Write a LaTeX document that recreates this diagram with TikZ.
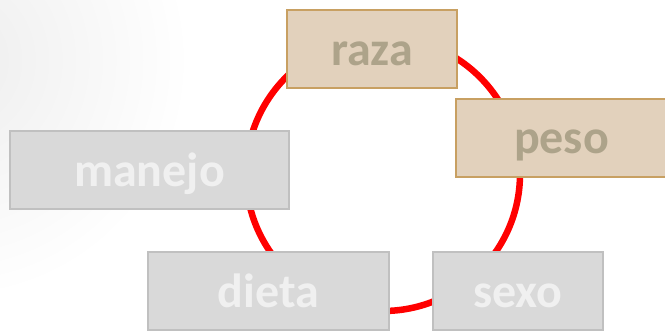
\documentclass[tikz,border=0pt]{standalone}
\usepackage{fontspec}
\setmainfont{Carlito}
\definecolor{tanfill}{RGB}{226,209,188}
\definecolor{tanline}{RGB}{200,160,98}
\definecolor{tantext}{RGB}{173,163,138}
\definecolor{grayfill}{RGB}{217,217,217}
\definecolor{grayline}{RGB}{192,192,192}
\definecolor{graytext}{RGB}{240,240,240}
\definecolor{ringred}{RGB}{255,0,0}
\tikzset{
  box/.style={rectangle, line width=2pt, inner sep=0pt, minimum height=78pt,
    text height=32pt, text depth=0pt,
    font=\fontsize{48}{54}\selectfont\bfseries},
  tanbox/.style={box, draw=tanline, fill=tanfill, text=tantext},
  graybox/.style={box, draw=grayline, fill=grayfill, text=graytext},
  ring/.style={draw=ringred, line width=6.5pt}
}
\begin{document}
\begin{tikzpicture}[x=1pt,y=-1pt]
\useasboundingbox (0,0) rectangle (665,330);
\clip (0,0) rectangle (665,330);
\fill[white] (0,0) rectangle (665,330);
\shade[inner color=black!7, outer color=white] (-50,60) circle [radius=240pt];
\coordinate (c) at (383,174);
\draw[ring] (c) circle [radius=137pt];
\node[tanbox, minimum width=170pt] (raza) at (372,49) {raza};
\node[tanbox, minimum width=211pt] (peso) at (561.5,137.5) {peso};
\node[graybox, minimum width=279pt] (manejo) at (149.5,170) {manejo};
\node[graybox, minimum width=241pt] (dieta) at (268.5,291) {dieta};
\node[graybox, minimum width=170pt] (sexo) at (518,291) {sexo};
\end{tikzpicture}
\end{document}
